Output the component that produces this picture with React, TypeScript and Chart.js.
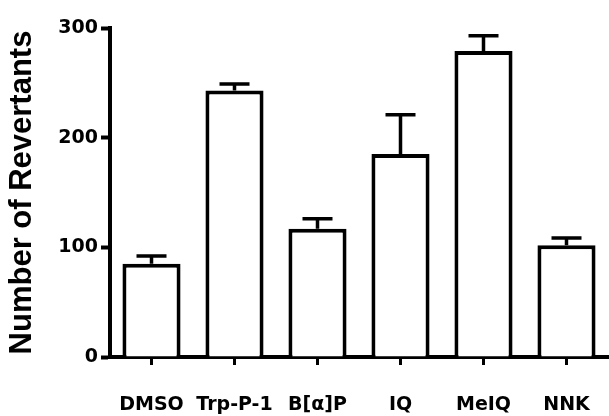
import React, { useEffect, useRef } from "react";
import { Chart, registerables } from "chart.js";

Chart.register(...registerables);

const categories = ["DMSO", "Trp-P-1", "B[α]P", "IQ", "MeIQ", "NNK"];
const meanValues = [85, 243, 117, 185, 279, 102];
const errorValues = [7, 6, 9, 36, 14, 6.5];
const yTicks = [0, 100, 200, 300];

const errorBarPlugin = {
  id: "errorBars",
  afterDatasetsDraw(chart: any) {
    const meta = chart.getDatasetMeta(0);
    const yScale = chart.scales.y;
    const ctx = chart.ctx;
    ctx.save();
    ctx.strokeStyle = "#000";
    ctx.lineWidth = 3.5;
    ctx.lineCap = "butt";
    meta.data.forEach((bar: any, i: number) => {
      const x = bar.x;
      const yBar = bar.y;
      const yTop = yScale.getPixelForValue(meanValues[i] + errorValues[i]);
      ctx.beginPath();
      ctx.moveTo(x, yBar);
      ctx.lineTo(x, yTop);
      ctx.moveTo(x - 15, yTop);
      ctx.lineTo(x + 15, yTop);
      ctx.stroke();
    });
    ctx.restore();
  },
};

export default function App() {
  const ref = useRef<HTMLCanvasElement | null>(null);
  useEffect(() => {
    if (!ref.current) return;
    const chart = new Chart(ref.current, {
      type: "bar",
      data: {
        labels: categories,
        datasets: [
          {
            data: meanValues,
            backgroundColor: "#fff",
            borderColor: "#000",
            borderWidth: 4,
            borderSkipped: "start",
            barPercentage: 0.7,
            categoryPercentage: 1,
          },
        ],
      },
      options: {
        animation: false,
        responsive: false,
        maintainAspectRatio: false,
        layout: { padding: { top: 28, right: 1, left: 4, bottom: 0 } },
        plugins: { legend: { display: false }, tooltip: { enabled: false } },
        scales: {
          x: {
            grid: {
              display: true,
              drawOnChartArea: false,
              drawTicks: true,
              tickLength: 8,
              tickWidth: 3,
              color: "#000",
              offset: false,
            },
            border: { display: true, width: 4, color: "#000" },
            ticks: {
              color: "#000",
              padding: 29,
              font: { family: "DejaVu Sans", weight: "bold", size: 19 },
              maxRotation: 0,
              autoSkip: false,
            },
            afterFit: (s: any) => {
              s.height = 59;
              s.paddingLeft = 0;
              s.paddingRight = 0;
            },
          },
          y: {
            min: 0,
            max: 300,
            afterBuildTicks: (s: any) => {
              s.ticks = yTicks.map((v) => ({ value: v }));
            },
            grid: {
              display: true,
              drawOnChartArea: false,
              drawTicks: true,
              tickLength: 9,
              tickWidth: 4,
              color: "#000",
            },
            border: { display: true, width: 4, color: "#000" },
            ticks: {
              color: "#000",
              padding: 3,
              font: { family: "DejaVu Sans", weight: "bold", size: 19 },
            },
            title: {
              display: true,
              text: "Number of Revertants",
              color: "#000",
              padding: { top: 0, bottom: 3 },
              font: { family: "Liberation Sans", weight: "bold", size: 31 },
            },
            afterFit: (s: any) => {
              s.width = 106;
            },
          },
        },
      },
      plugins: [errorBarPlugin],
    });
    return () => chart.destroy();
  }, []);
  return (
    <div style={{ position: "fixed", left: 0, top: 0, width: 609, height: 416, background: "#fff" }}>
      <canvas ref={ref} width={609} height={416} style={{ width: 609, height: 416, display: "block" }} />
    </div>
  );
}
